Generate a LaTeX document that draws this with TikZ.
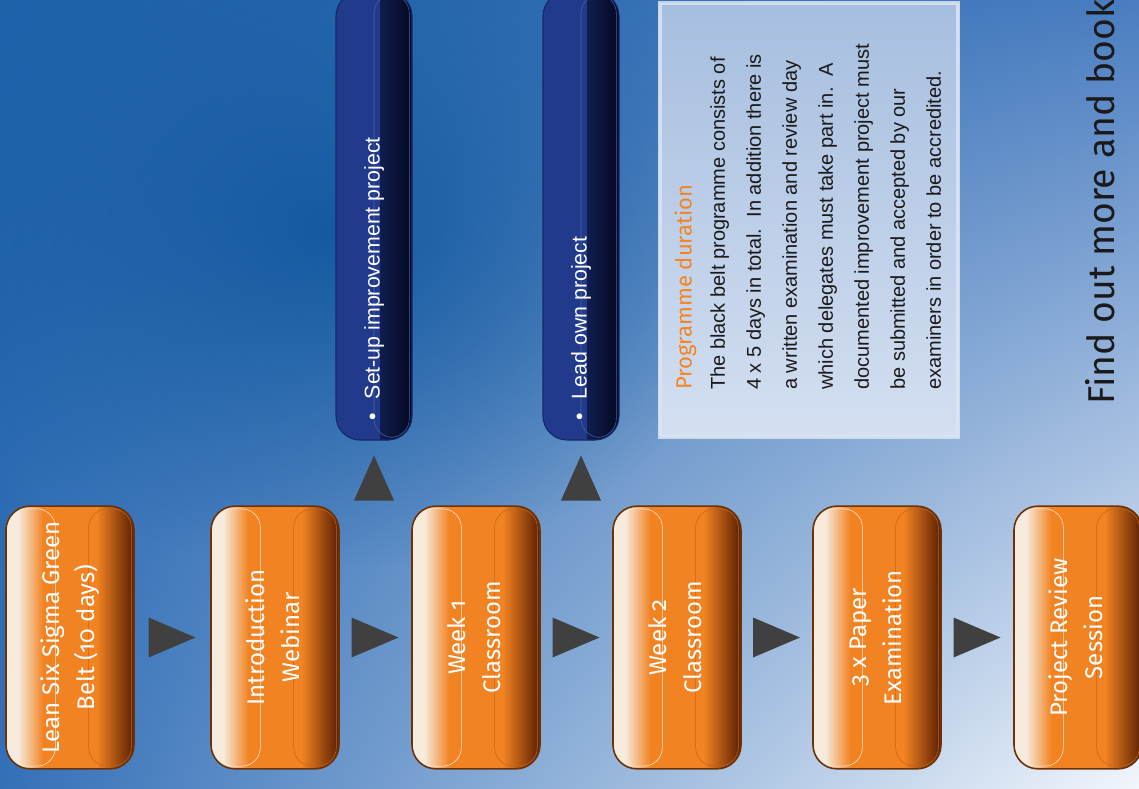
\documentclass[tikz,border=0pt]{standalone}
\usepackage{graphicx}
\usepackage{fontspec}
\setmainfont{Liberation Sans}
\newfontfamily\stagefont{Fira Sans}[Numbers=OldStyle]
\usetikzlibrary{positioning,calc,fadings,shadings}

\definecolor{bgtl}{HTML}{1D62AA}
\definecolor{bgtr}{HTML}{4A7DC0}
\definecolor{bgbl}{HTML}{3470B8}
\definecolor{bgbr}{HTML}{F2F6FC}
\definecolor{bgdeep}{HTML}{0E559D}
\definecolor{stageorange}{HTML}{F28322}
\definecolor{stagecream}{HTML}{F7EBDD}
\definecolor{stagedark}{HTML}{5A1E02}
\definecolor{stageedge}{HTML}{6B3209}
\definecolor{tipgray}{HTML}{404040}
\definecolor{tasknavy}{HTML}{213A8C}
\definecolor{taskdeep}{HTML}{030822}
\definecolor{taskedge}{HTML}{16286A}
\definecolor{infotop}{HTML}{A6BEDF}
\definecolor{infobottom}{HTML}{D4DFF1}
\definecolor{infoedge}{HTML}{DCE5F2}
\definecolor{titleorange}{HTML}{F5841F}
\definecolor{bookblack}{HTML}{1A1A1A}

\tikzfading[name=softspot, inner color=transparent!15, outer color=transparent!100]

% text turned to read upwards
\newcommand{\turnup}[1]{\rotatebox{90}{\begin{tabular}{@{}c@{}}#1\end{tabular}}}
\newcommand{\turnflush}[1]{\rotatebox{90}{\begin{tabular}{@{}l@{}}#1\end{tabular}}}

\begin{document}
\begin{tikzpicture}[x=0.75pt,y=-0.75pt,
    stage/.style={rectangle, rounded corners=18pt, draw=stageedge, line width=1.2pt,
      fill=stageorange, minimum width=96pt, minimum height=197pt, inner sep=0pt,
      text=white, font={\stagefont\fontsize{18}{26}\selectfont},
      path picture={
        \fill[sharp corners, stagecream] (path picture bounding box.south west) rectangle ([xshift=9pt]path picture bounding box.north west);
        \shade[sharp corners, left color=stagecream, right color=stageorange]
          ([xshift=9pt]path picture bounding box.south west) rectangle ([xshift=28pt]path picture bounding box.north west);
        \shade[sharp corners, left color=stageorange, right color=stagedark]
          ([xshift=-28pt]path picture bounding box.south east) rectangle (path picture bounding box.north east);
        \draw[stagecream, line width=0.4pt, rounded corners=14pt]
          ([xshift=2pt,yshift=-2pt]path picture bounding box.north west) rectangle ([xshift=37pt,yshift=2pt]path picture bounding box.south west);
        \draw[stageorange!70!stagedark, line width=0.4pt, rounded corners=14pt]
          ([xshift=-34pt,yshift=-2pt]path picture bounding box.north east) rectangle ([xshift=-2pt,yshift=2pt]path picture bounding box.south east);
      }},
    task/.style={rectangle, rounded corners=18pt, draw=taskedge, line width=0.8pt,
      fill=tasknavy, minimum width=57pt, minimum height=336pt, inner sep=0pt,
      text=white, font={\fontsize{16}{19}\selectfont},
      path picture={
        \shade[sharp corners, left color=tasknavy, middle color=tasknavy!65!taskdeep, right color=taskdeep]
          ([xshift=-24pt]path picture bounding box.south east) rectangle (path picture bounding box.north east);
        \draw[tasknavy!80!white, line width=0.4pt, rounded corners=14pt]
          ([yshift=-2pt]path picture bounding box.north) rectangle ([xshift=-2pt,yshift=2pt]path picture bounding box.south east);
      }},
    infobox/.style={rectangle, draw=infoedge, draw opacity=0.85, line width=3pt,
      top color=infotop, bottom color=infobottom, minimum width=224pt, minimum height=325pt},
    infotext/.style={inner sep=0pt, text=bookblack, font={\fontsize{15}{27}\selectfont}},
    findout/.style={inner sep=0pt, text=bookblack, font={\stagefont\fontsize{28}{32}\selectfont}},
    flowtip/.style={fill=tipgray}]

  % page and background
  \clip (0,0) rectangle (1139,789);
  \shade[upper left=bgtl, upper right=bgtr, lower left=bgbl, lower right=bgbr] (0,0) rectangle (1139,789);
  \fill[bgdeep, path fading=softspot] (330,230) ellipse (430 and 340);

  % programme stages
  \node[stage] (s1) at (70,637.5) {\turnup{Lean Six Sigma Green\\Belt (10 days)}};
  \node[stage] (s2) at (275,637.5) {\turnup{Introduction\\Webinar}};
  \node[stage] (s3) at (476,637.5) {\turnup{Week 1\\Classroom}};
  \node[stage] (s4) at (677,637.5) {\turnup{Week 2\\Classroom}};
  \node[stage] (s5) at (877,637.5) {\turnup{3 x Paper\\Examination}};
  \node[stage] (s6) at (1078,637.5) {\turnup{Project Review\\Session}};

  \fill[flowtip] ($(s1)!.5!(s2)$) +(-24,-20) -- +(23,0) -- +(-24,20) -- cycle;
  \fill[flowtip] ($(s2)!.5!(s3)$) +(-24,-20) -- +(23,0) -- +(-24,20) -- cycle;
  \fill[flowtip] ($(s3)!.5!(s4)$) +(-24,-20) -- +(23,0) -- +(-24,20) -- cycle;
  \fill[flowtip] ($(s4)!.5!(s5)$) +(-24,-20) -- +(23,0) -- +(-24,20) -- cycle;
  \fill[flowtip] ($(s5)!.5!(s6)$) +(-24,-20) -- +(23,0) -- +(-24,20) -- cycle;

  % project tasks
  \node[task] (t1) at (374,216) {\rotatebox{90}{\parbox{306pt}{\textbullet\hspace{10pt}Set-up improvement project}}};
  \node[task] (t2) at (581,216) {\rotatebox{90}{\parbox{306pt}{\textbullet\hspace{10pt}Lead own project}}};

  \fill[flowtip] (t1.south) +(-20,60) -- +(0,15) -- +(20,60) -- cycle;
  \fill[flowtip] (t2.south) +(-20,60) -- +(0,15) -- +(20,60) -- cycle;

  % duration panel
  \node[infobox] (info) at (809,220) {};
  \node[infotext, anchor=south] (duration) at (809,390) {\turnflush{%
    {\stagefont\color{titleorange}\fontsize{16.5}{20}\selectfont Programme duration}\\[-2pt]
    The black belt programme consists of\\
    4 x 5 days in total.\ \ In addition there is\\
    a written examination and review day\\
    which delegates must take part in.\ \ A\\
    documented improvement project must\\
    be submitted and accepted by our\\
    examiners in order to be accredited.}};

  \node[findout, anchor=south] (book) at (1100,405) {\rotatebox{90}{Find out more and book}};
\end{tikzpicture}
\end{document}
